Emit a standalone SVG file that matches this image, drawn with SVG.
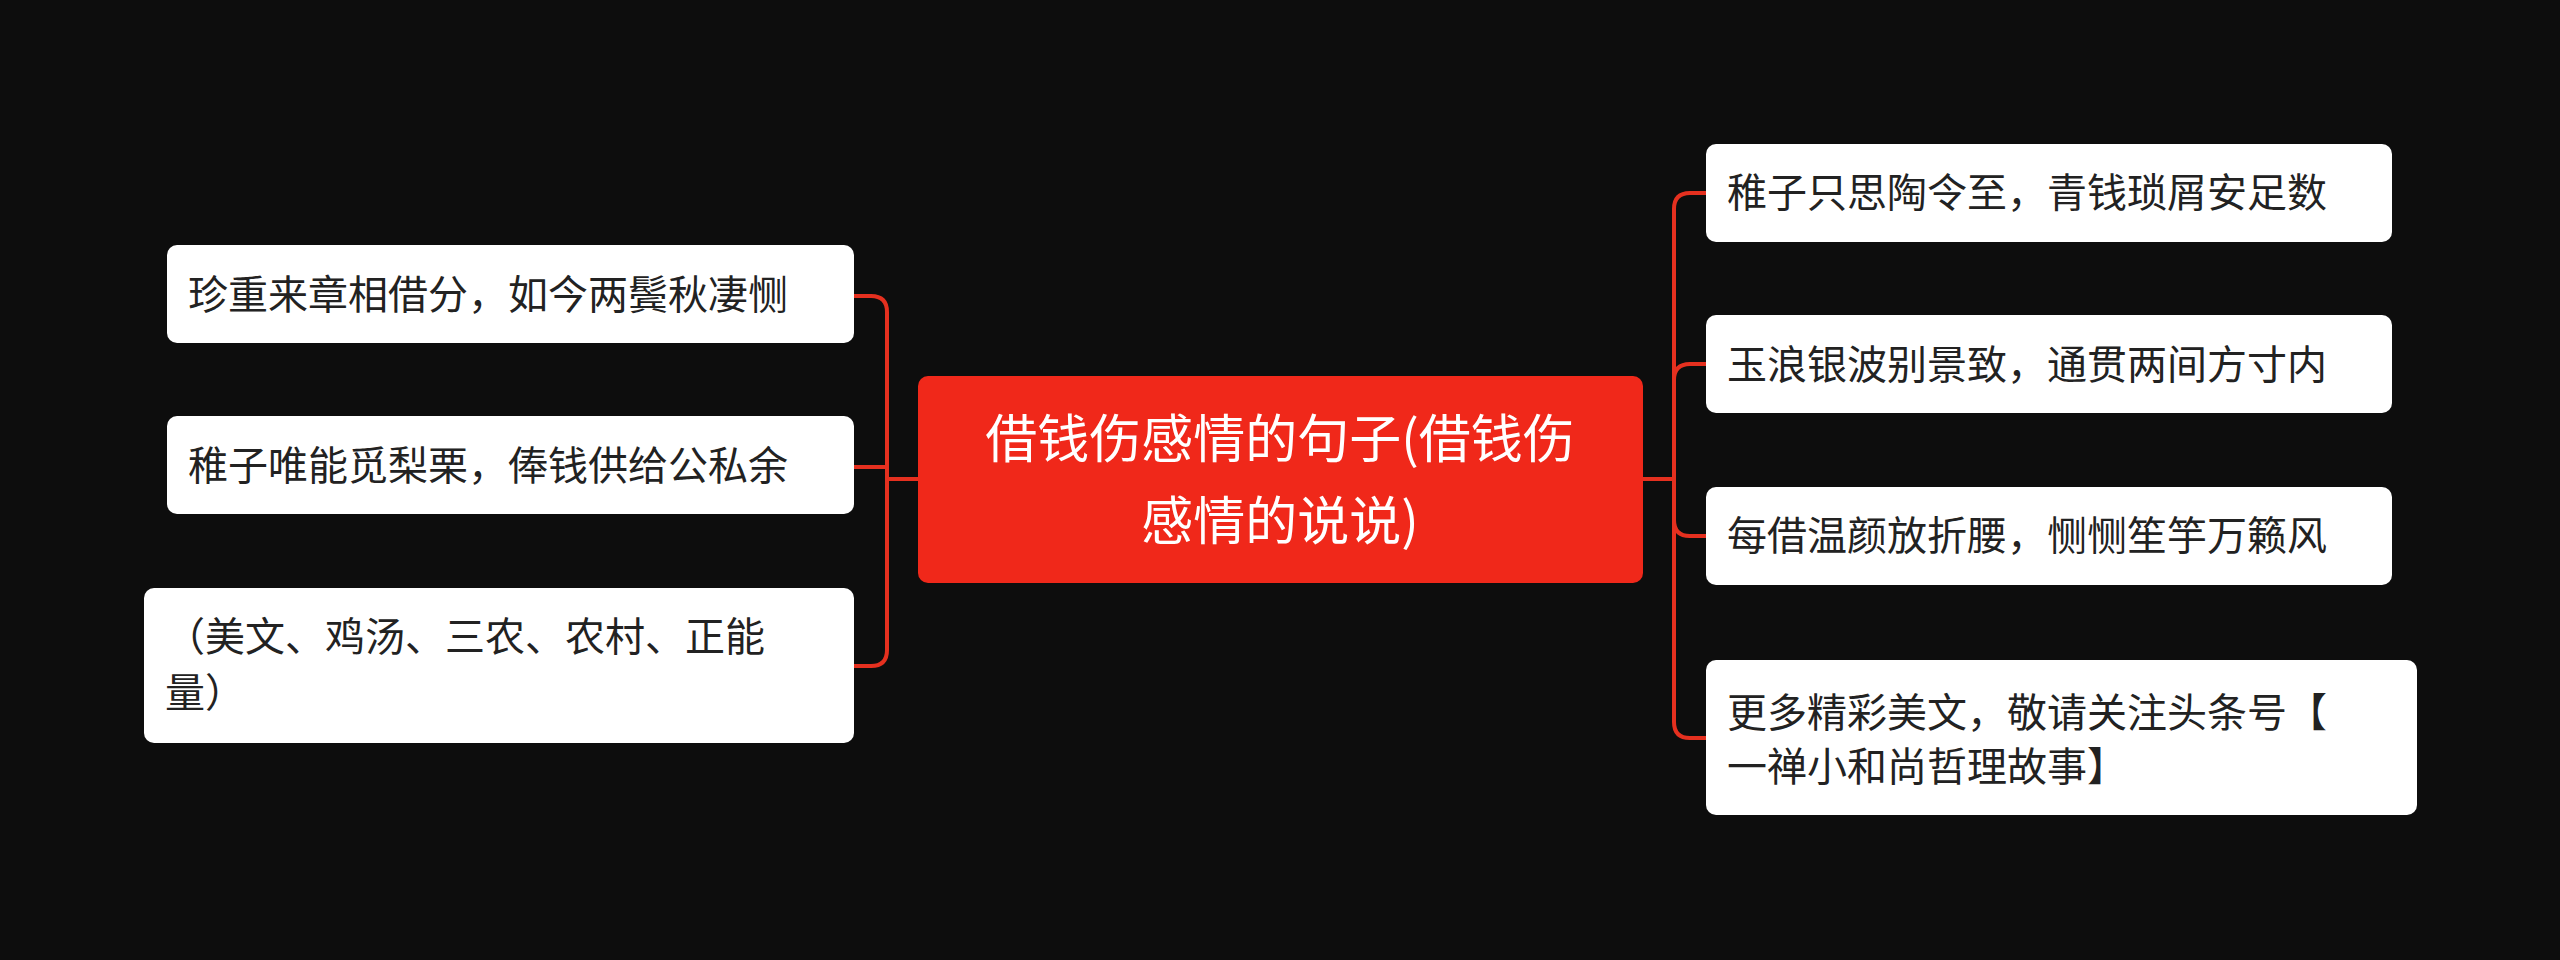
<svg xmlns="http://www.w3.org/2000/svg" width="2560" height="960" viewBox="0 0 2560 960">
<style>
.n{fill:#ffffff}
.t{font-family:"Noto Sans CJK SC","Liberation Sans",sans-serif;font-size:40px;fill:#222}
.c{font-family:"Noto Sans CJK SC","Liberation Sans",sans-serif;font-size:52px;fill:#fff;text-anchor:middle}
.l{fill:none;stroke:#e5301f;stroke-width:4}
</style>
<rect width="2560" height="960" fill="#0d0d0d"/>
<g id="connectors">
<path class="l" d="M918 479H887"/>
<path class="l" d="M887 479V312Q887 296 871 296H854"/>
<path class="l" d="M887 479V467H854"/>
<path class="l" d="M887 479V650Q887 666 871 666H854"/>
<path class="l" d="M1643 479H1674"/>
<path class="l" d="M1674 479V209Q1674 193 1690 193H1706"/>
<path class="l" d="M1674 479V380Q1674 364 1690 364H1706"/>
<path class="l" d="M1674 479V520Q1674 536 1690 536H1706"/>
<path class="l" d="M1674 479V722Q1674 738 1690 738H1706"/>
</g>
<g id="center"><rect x="918" y="376" width="725" height="207" rx="10" fill="#f0281a"/>
<text class="c" x="1280" y="458">借钱伤感情的句子(借钱伤</text>
<text class="c" x="1280" y="540">感情的说说)</text></g>
<g id="l1"><rect class="n" x="167" y="245" width="687" height="98" rx="10"/><text class="t" x="188" y="309">珍重来章相借分，如今两鬓秋凄恻</text></g>
<g id="l2"><rect class="n" x="167" y="416" width="687" height="98" rx="10"/><text class="t" x="188" y="480">稚子唯能觅梨栗，俸钱供给公私余</text></g>
<g id="l3"><rect class="n" x="144" y="588" width="710" height="155" rx="10"/><text class="t" x="165" y="651">（美文、鸡汤、三农、农村、正能</text><text class="t" x="165" y="707">量）</text></g>
<g id="r1"><rect class="n" x="1706" y="144" width="686" height="98" rx="10"/><text class="t" x="1727" y="207">稚子只思陶令至，青钱琐屑安足数</text></g>
<g id="r2"><rect class="n" x="1706" y="315" width="686" height="98" rx="10"/><text class="t" x="1727" y="379">玉浪银波别景致，通贯两间方寸内</text></g>
<g id="r3"><rect class="n" x="1706" y="487" width="686" height="98" rx="10"/><text class="t" x="1727" y="550">每借温颜放折腰，恻恻笙竽万籁风</text></g>
<g id="r4"><rect class="n" x="1706" y="660" width="711" height="155" rx="10"/><text class="t" x="1727" y="727">更多精彩美文，敬请关注头条号【</text><text class="t" x="1727" y="781">一禅小和尚哲理故事】</text></g>
</svg>
